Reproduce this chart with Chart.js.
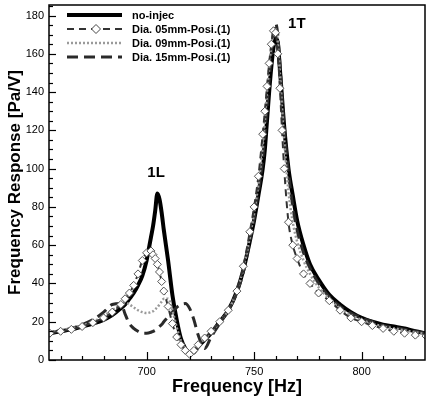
<!DOCTYPE html>
<html>
<head>
<meta charset="utf-8">
<script src="https://cdn.jsdelivr.net/npm/chart.js@4.4.1/dist/chart.umd.min.js"></script>
<style>
html, body { margin: 0; padding: 0; background: #fff; }
</style>
</head>
<body>
<canvas id="Response" width="430" height="403"></canvas>
<script>
const freq = [655, 660, 665, 670, 675, 680, 684, 688, 690, 692, 694, 696, 698, 700,
    702, 703, 704, 705, 706, 707, 708, 710, 712, 714, 716, 718, 720, 722,
    724, 727, 730, 734, 738, 742, 745, 748, 750, 752, 754,
    755, 756, 757, 758, 759, 760, 761, 762, 763, 764, 766, 768, 770,
    773, 776, 780, 785, 790, 795, 800, 805, 810, 815, 820, 825, 830];

const noInjec = [14, 15, 16, 17.5, 19, 21, 23.5, 27, 29, 32, 35, 39, 44, 52,
    64, 70, 78, 87, 84, 77, 68, 52, 34, 21, 11, 6, 3.5, 4,
    7, 10.5, 14, 20, 26, 36, 47, 62, 73, 86, 100,
    110, 125, 140, 153, 163, 168, 166, 152, 137, 122, 100, 86, 73,
    60, 50, 42, 34, 29, 25, 22, 20, 18.5, 17.5, 16.5, 15, 14];

const dia05 = [14, 15, 16, 17.5, 19.5, 22, 25, 29, 32, 35, 39, 45, 52, 56,
    57, 55, 53, 50, 46, 41, 36, 28, 19, 12, 8, 5, 3, 5,
    8, 11.5, 15, 20, 26, 36, 49, 67, 80, 96, 118,
    130, 143, 155, 165, 172, 171, 160, 142, 120, 100, 72, 60, 53,
    45, 40, 35, 31, 26, 22, 20, 18, 16.5, 15, 14, 13, 12.5];

const dia09 = [14.5, 15.5, 16.5, 18, 20, 23, 26, 29, 30, 29, 27.5, 26, 25, 24.5,
    25, 25.5, 26.5, 27.5, 29, 30.5, 32, 32, 26, 17, 10, 5.5, 3, 4.5,
    7.5, 11, 14.5, 20, 26, 36, 48, 64, 77, 92, 112,
    125, 140, 153, 164, 171, 173, 166, 150, 132, 115, 88, 72, 62,
    52, 45, 38, 32, 27, 23.5, 21, 19, 17.5, 16.5, 15.5, 14.5, 13.5];

const dia15 = [14, 15.5, 16.5, 18.5, 21, 25, 29, 29.5, 24, 19, 16.5, 15, 14, 14,
    14.5, 15, 15.5, 16.5, 17.5, 18.5, 20, 22.5, 25, 27.5, 29, 29.5, 27, 21,
    13, 6, 12, 19, 26, 35, 46, 62, 74, 88, 105,
    118, 132, 146, 160, 170, 176, 170, 155, 138, 122, 98, 80, 68,
    56, 48, 40, 33, 28, 24.5, 22, 20, 18, 17, 16, 15, 14];

const seriesNames = ['no-injec', 'Dia. 05mm-Posi.(1)', 'Dia. 09mm-Posi.(1)', 'Dia. 15mm-Posi.(1)'];
const xTickLabels = [700, 750, 800];
const yTickLabels = [0, 20, 40, 60, 80, 100, 120, 140, 160, 180];
const peakNames = ['1L', '1T'];
const peakFreq = [704.4, 769.9];
const peakLevel = [97.7, 175.6];

const FONT = 'Liberation Sans, Arial, Helvetica, sans-serif';

function pts(vals) {
    return freq.map((f, i) => ({ x: f, y: vals[i] }));
}

const styles = [
    { color: '#000', width: 4, dash: [] },
    { color: '#333', width: 2, dash: [7, 5] },
    { color: '#9a9a9a', width: 2.5, dash: [2, 2] },
    { color: '#2a2a2a', width: 3, dash: [11, 6] }
];

// frame, inward ticks, peak names and legend
const decor = {
    id: 'decor',
    afterDraw(chart) {
        const ctx = chart.ctx;
        const a = chart.chartArea;
        const xs = chart.scales.x, ys = chart.scales.y;
        ctx.save();
        ctx.strokeStyle = '#000';
        ctx.lineWidth = 1.5;
        ctx.strokeRect(a.left, a.top, a.right - a.left, a.bottom - a.top);

        ctx.lineWidth = 1.2;
        for (let v = 660; v <= 820; v += 10) {
            const px = Math.round(xs.getPixelForValue(v)) + 0.5;
            const len = v % 50 === 0 ? 8 : 4;
            ctx.beginPath();
            ctx.moveTo(px, a.bottom);
            ctx.lineTo(px, a.bottom - len);
            ctx.stroke();
        }
        for (let v = 0; v <= 185; v += 5) {
            const py = Math.round(ys.getPixelForValue(v)) + 0.5;
            const len = v % 20 === 0 ? 7 : 4;
            ctx.beginPath();
            ctx.moveTo(a.left, py);
            ctx.lineTo(a.left + len, py);
            ctx.stroke();
        }

        ctx.fillStyle = '#000';
        ctx.font = 'bold 15px ' + FONT;
        ctx.textAlign = 'center';
        ctx.textBaseline = 'middle';
        peakNames.forEach((t, i) => {
            ctx.fillText(t, xs.getPixelForValue(peakFreq[i]), ys.getPixelForValue(peakLevel[i]));
        });

        // legend
        const x0 = 67, x1 = 122, tx = 132;
        ctx.font = 'bold 11px ' + FONT;
        ctx.textAlign = 'left';
        seriesNames.forEach((name, i) => {
            const y = 15 + i * 14;
            const s = styles[i];
            ctx.strokeStyle = s.color;
            ctx.lineWidth = s.width;
            ctx.setLineDash(s.dash);
            ctx.beginPath();
            ctx.moveTo(x0, y);
            ctx.lineTo(x1, y);
            ctx.stroke();
            ctx.setLineDash([]);
            if (i === 1) {
                ctx.fillStyle = '#fff';
                ctx.strokeStyle = '#444';
                ctx.lineWidth = 1;
                ctx.beginPath();
                ctx.moveTo(96, y - 4.5);
                ctx.lineTo(100.5, y);
                ctx.lineTo(96, y + 4.5);
                ctx.lineTo(91.5, y);
                ctx.closePath();
                ctx.fill();
                ctx.stroke();
            }
            ctx.fillStyle = '#000';
            ctx.fillText(name, tx, y + 0.5);
        });
        ctx.restore();
    }
};

const ctx = document.getElementById('Response').getContext('2d');
const Response = new Chart(ctx, {
    type: 'line',
    data: {
        datasets: [{
            label: seriesNames[0],
            data: pts(noInjec),
            borderColor: styles[0].color,
            borderWidth: styles[0].width,
            pointRadius: 0,
            order: 3
        }, {
            label: seriesNames[1],
            data: pts(dia05),
            borderColor: styles[1].color,
            borderWidth: styles[1].width,
            borderDash: styles[1].dash,
            pointStyle: 'rectRot',
            pointRadius: 4,
            pointBackgroundColor: '#fff',
            pointBorderColor: '#555',
            pointBorderWidth: 1,
            order: 0
        }, {
            label: seriesNames[2],
            data: pts(dia09),
            borderColor: styles[2].color,
            borderWidth: styles[2].width,
            borderDash: styles[2].dash,
            pointRadius: 0,
            order: 1
        }, {
            label: seriesNames[3],
            data: pts(dia15),
            borderColor: styles[3].color,
            borderWidth: styles[3].width,
            borderDash: styles[3].dash,
            pointRadius: 0,
            order: 2
        }]
    },
    options: {
        responsive: false,
        animation: false,
        devicePixelRatio: 1,
        cubicInterpolationMode: 'monotone',
        layout: { padding: { top: 4, right: 1 } },
        plugins: { legend: { display: false }, tooltip: { enabled: false } },
        scales: {
            x: {
                type: 'linear',
                min: 654.6,
                max: 829.5,
                afterBuildTicks: s => { s.ticks = xTickLabels.map(v => ({ value: v })); },
                afterFit: s => { s.height = 43; s.paddingLeft = 0; s.paddingRight = 0; },
                grid: { display: false, drawTicks: false },
                border: { display: false },
                ticks: { padding: 5, color: '#000', maxRotation: 0, font: { family: FONT, size: 11 } },
                title: {
                    display: true,
                    text: 'Frequency [Hz]',
                    color: '#000',
                    font: { family: FONT, size: 18, weight: 'bold' },
                    padding: { top: 0, bottom: 5 }
                }
            },
            y: {
                min: 0,
                max: 185.5,
                afterBuildTicks: s => { s.ticks = yTickLabels.map(v => ({ value: v })); },
                afterFit: s => { s.width = 49; s.paddingTop = 0; s.paddingBottom = 0; },
                grid: { display: false, drawTicks: false },
                border: { display: false },
                ticks: { padding: 5, color: '#000', font: { family: FONT, size: 11 } },
                title: {
                    display: true,
                    text: 'Frequency Response [Pa/V]',
                    color: '#000',
                    font: { family: FONT, size: 17, weight: 'bold' },
                    padding: { top: 5, bottom: 0 }
                }
            }
        }
    },
    plugins: [decor]
});
</script>
</body>
</html>
